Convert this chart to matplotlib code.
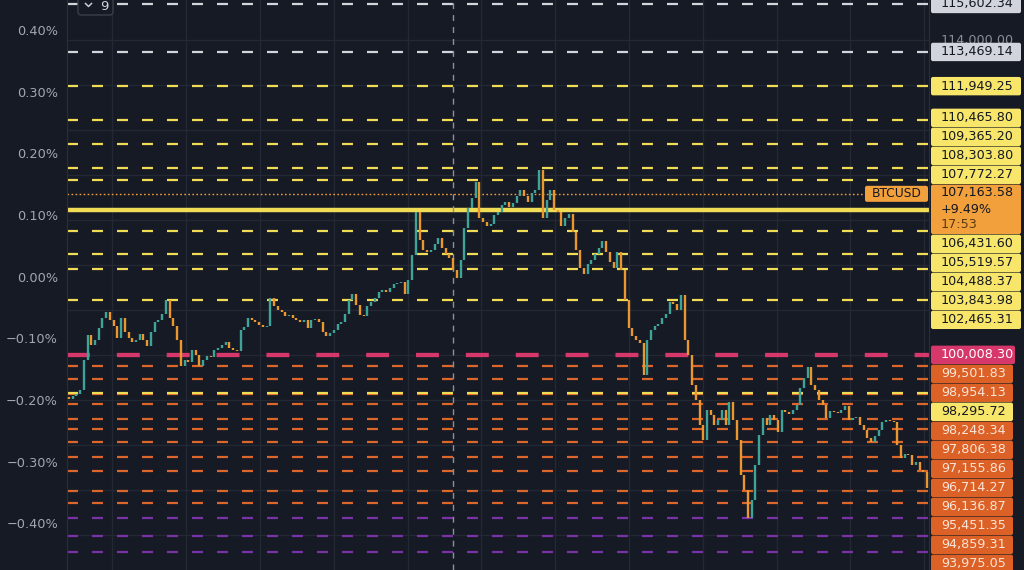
import matplotlib
matplotlib.use("Agg")
import matplotlib.pyplot as plt
from matplotlib.patches import FancyBboxPatch
import numpy as np

plt.rcParams['lines.scale_dashes'] = False
plt.rcParams['font.family'] = ['DejaVu Sans']

# ---------------- data ----------------
first_open = 98150
closes = [
    98050, 98180, 98270, 98450, 99780, 100890, 100450, 100670, 101200, 101650,
    101910, 101560, 101290, 100760, 101650, 101020, 100760, 100580, 100670, 100940,
    100670, 100400, 101020, 101470, 101560, 101820, 102450, 101650, 101290, 100670,
    99510, 99780, 99690, 100220, 100000, 99510, 99780, 99960, 99910, 100220,
    100310, 100450, 100580, 100310, 100220, 100180, 101110, 101250, 101650, 101560,
    101470, 101340, 101250, 101290, 102540, 102180, 102000, 101910, 101740,
    101780, 101650, 101560, 101470, 101560, 101200, 101560, 101600, 101470, 101020,
    100850, 100980, 101110, 101380, 101470, 101820, 102450, 102710, 102220, 101780,
    101740, 102180, 102360, 102540, 102800, 102890, 102800, 102980, 103160, 103200,
    103250, 102710, 103340, 104450, 106360, 105110, 104670, 104580, 104670, 104940,
    105200, 104760, 104490, 104310, 103780, 103420, 104220, 105650, 106530, 106980,
    107690, 106090, 105910, 105740, 105820, 106220, 106360, 106670, 106800,
    106580, 106760, 107070, 107330, 107070, 106800, 107200, 107330, 108220, 106090,
    106890, 107330, 106450, 106360, 105740, 106090, 106270, 105470, 104670, 103870,
    103600, 104050, 104220, 104490, 104760, 105070, 104580, 104140, 103870, 104580,
    103780, 102450, 101200, 100850, 100670, 100540, 99110, 100670, 101110, 101290,
    101380, 101650, 101820, 102360, 102270, 102000, 102670, 100670, 100000, 98670,
    98000, 96890, 96220, 97560, 97340, 96890,
    97110, 97560, 96890, 97910, 97110, 96220, 94670, 94000, 92760, 93560,
    95110, 96450, 97200, 96890, 97340, 97110, 96580, 97560, 97470, 97380,
    97560, 97780, 98540, 98980, 99470, 98670, 98450, 98000, 97780, 97200,
    97510, 97470, 97430, 97560, 97740, 97110, 97200, 97250, 96890, 96670,
    96310, 96140, 96400, 96670, 97020, 97110, 97070, 97020, 96000, 95420,
    95600, 95560, 95110, 95250, 94890, 94800, 94090,
]

white_levels = [115602.34, 113469.14]
yellow_levels = [111949.25, 110465.80, 109365.20, 108303.80, 107772.27,
                 105519.57, 104488.37, 103843.98, 102465.31, 98295.72]
solid_level = 106431.60
pink_level = 100008.30
orange_levels = [99501.83, 98954.13, 98248.34, 97806.38, 97155.86, 96714.27,
                 96136.87, 95451.35, 94859.31, 93975.05, 93430.00]
purple_levels = [92760.00, 91960.00, 91250.00]

current_price = 107163.58
current_change = "+9.49%"
countdown = "17:53"
symbol = "BTCUSD"
interval_badge = "9"

price_ticks = [116000, 114000, 112000, 110000, 108000, 106000, 104000,
               102000, 100000, 98000, 96000, 94000, 92000]
pct_ticks = [0.40, 0.30, 0.20, 0.10, 0.00, -0.10, -0.20, -0.30, -0.40]

# ---------------- styling ----------------
BG = '#161a25'
GRID = '#242834'
UP = '#3ea399'
DOWN = '#ea972f'
STY = {
    'white':  dict(line='#d3d5db', box='#d1d4dc', text='#131722'),
    'yellow': dict(line='#f1dc56', box='#f8e66a', text='#131722'),
    'pink':   dict(line='#d6386b', box='#d6386b', text='#ffffff'),
    'orange': dict(line='#dd662b', box='#dc6127', text='#fbe4d6'),
    'purple': dict(line='#7a33a6', box='#7a33a6', text='#ffffff'),
    'current': dict(line='#f0a03a', box='#f2a03c', text='#131722'),
}

W, H = 1024, 570
PLOT_L, PLOT_R = 67, 929
YMAX, YMIN = 115778, 90445

fig = plt.figure(figsize=(W / 100, H / 100), dpi=100, facecolor=BG)
ax = fig.add_axes([PLOT_L / W, 0, (PLOT_R - PLOT_L) / W, 1])
ax.set_facecolor(BG)
n = len(closes)
ax.set_xlim(-0.5, n - 0.5)
ax.set_ylim(YMIN, YMAX)
ax.set_xticks([])
ax.set_yticks([])
for s in ['top', 'bottom']:
    ax.spines[s].set_visible(False)
ax.spines['left'].set_color('#2a2e39')
ax.spines['right'].set_color('#2a2e39')


def px_to_x(px):
    return -0.5 + (px - PLOT_L) / (PLOT_R - PLOT_L) * n


# grid
for p in price_ticks:
    ax.axhline(p, color=GRID, lw=1, zorder=0.5)
for k in range(12):
    ax.axvline(px_to_x(112.3 + 73.8 * k), color=GRID, lw=1, zorder=0.5)

# crosshair
ax.axvline(px_to_x(453), color='#8a909c', lw=1, ls=(0, (4.3, 4.3)), zorder=2.5)

# level lines
DASH = (0, (7.9, 10.1))
for p in white_levels:
    ax.axhline(p, color=STY['white']['line'], lw=1.6, ls=DASH, zorder=2)
for p in orange_levels:
    ax.axhline(p, color=STY['orange']['line'], lw=1.6, ls=DASH, zorder=2)
for p in purple_levels:
    ax.axhline(p, color=STY['purple']['line'], lw=1.6, ls=DASH, zorder=2)
for p in yellow_levels:
    ax.axhline(p, color=STY['yellow']['line'], lw=1.6, ls=DASH, zorder=2.1)
ax.axhline(solid_level, color=STY['yellow']['line'], lw=3.2, zorder=2)
ax.axhline(pink_level, color=STY['pink']['line'], lw=3.1, ls=(0, (16.5, 19.4)), zorder=2)
ax.axhline(current_price, xmax=(865 - PLOT_L) / (PLOT_R - PLOT_L),
           color=STY['current']['line'], lw=1.0, ls=(0, (1.2, 1.7)), zorder=2)

# candles
opens = [first_open] + closes[:-1]
xs = np.arange(n)
lo = [min(o, c) for o, c in zip(opens, closes)]
hi = [max(o, c) for o, c in zip(opens, closes)]
cols = [UP if c >= o else DOWN for o, c in zip(opens, closes)]
ax.vlines(xs, lo, hi, colors=cols, lw=1.7, zorder=3)

# percent axis on the left
axp = ax.twinx()
top_pct = 0.40 + 30 / 616.6
bot_pct = -0.40 - (H - 523.3) / 616.6
axp.set_ylim(bot_pct, top_pct)
axp.yaxis.set_ticks_position('left')
axp.set_yticks(pct_ticks)
axp.set_yticklabels([("\u2212" if t < 0 else "") + f"{abs(t):.2f}%" for t in pct_ticks])
axp.tick_params(axis='y', length=0, pad=6.5, labelsize=9.3, labelcolor='#a3a6af')
for s in axp.spines.values():
    s.set_visible(False)

# overlay in pixel coordinates
ov = fig.add_axes([0, 0, 1, 1], zorder=10)
ov.set_xlim(0, W)
ov.set_ylim(H, 0)
ov.axis('off')
ov.patch.set_alpha(0)


def py(p):
    return (YMAX - p) / (YMAX - YMIN) * H


# price labels with stacking
items = [(p, 'white') for p in white_levels] + [(p, 'yellow') for p in yellow_levels] + \
        [(solid_level, 'yellow'), (pink_level, 'pink'), (current_price, 'current')] + \
        [(p, 'orange') for p in orange_levels] + [(p, 'purple') for p in purple_levels]
items.sort(key=lambda t: -t[0])
RH = 19.0
ai = [i for i, t in enumerate(items) if t[1] == 'current'][0]
boxes = [None] * len(items)
cy = py(current_price)
boxes[ai] = (cy - 9.5, cy + 40.5)
prev_top = boxes[ai][0]
for i in range(ai - 1, -1, -1):
    c = min(py(items[i][0]), prev_top - RH / 2)
    boxes[i] = (c - RH / 2, c + RH / 2)
    prev_top = boxes[i][0]
prev_bot = boxes[ai][1]
for i in range(ai + 1, len(items)):
    c = max(py(items[i][0]), prev_bot + RH / 2)
    boxes[i] = (c - RH / 2, c + RH / 2)
    prev_bot = boxes[i][1]

# price axis tick labels: only those not covered by a label box
for p in price_ticks:
    y = py(p)
    if y < 0 or y > H:
        continue
    if any(t <= y <= b for t, b in boxes):
        continue
    ov.text(941, y, f"{p:,.2f}", color='#8a8e99', fontsize=9.2,
            va='center', ha='left', zorder=1)

for (p, kind), (t, b) in zip(items, boxes):
    if t > H:
        continue
    st = STY[kind]
    right = 1021 if p > pink_level else (1015 if kind == 'pink' else 1013)
    ov.add_patch(FancyBboxPatch((931, t + 0.3), right - 931, b - t - 0.6,
                                boxstyle='round,pad=0,rounding_size=2',
                                fc=st['box'], ec='none', zorder=2))
    if kind == 'current':
        ov.text(941, t + 8.5, f"{p:,.2f}", color=st['text'], fontsize=9.2, va='center', zorder=3)
        ov.text(941, t + 25.5, current_change, color=st['text'], fontsize=9.2, va='center', zorder=3)
        ov.text(941, t + 40, countdown, color='#5b3a12', fontsize=9.2, va='center', zorder=3)
    else:
        ov.text(941, (t + b) / 2, f"{p:,.2f}", color=st['text'], fontsize=9.2,
                va='center', zorder=3)

# symbol tag
ov.add_patch(FancyBboxPatch((865, cy - 8), 63, 16, boxstyle='round,pad=0,rounding_size=2',
                            fc=STY['current']['box'], ec='none', zorder=2))
ov.text(896.5, cy, symbol, color='#131722', fontsize=8.8, va='center', ha='center', zorder=3)

# interval badge top-left
ov.add_patch(FancyBboxPatch((78, -6), 35, 21, boxstyle='round,pad=0,rounding_size=3',
                            fc=BG, ec='#3a3e4a', lw=1, zorder=2))
ov.plot([85.5, 88.5, 91.5], [3.5, 6.5, 3.5], color='#c8cad0', lw=1.1, zorder=3)
ov.text(104, 6.2, interval_badge, color='#d1d4dc', fontsize=9.5, va='center', ha='center', zorder=3)

fig.savefig('out.png', dpi=100, facecolor=BG)
